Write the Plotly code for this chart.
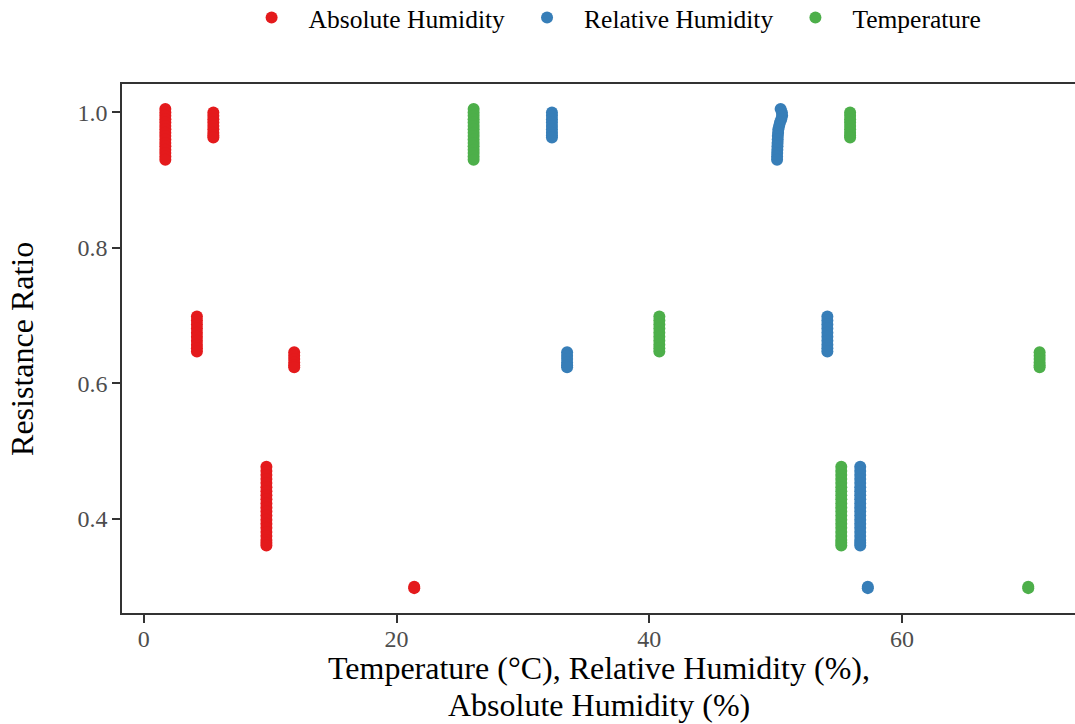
import plotly.graph_objects as go

# ---- data: each group = one test condition (T, RH, AH) with its measured resistance ratios
ratio_g1 = [1.005, 1.000, 0.995, 0.990, 0.985, 0.980, 0.975, 0.970, 0.965, 0.960,
            0.955, 0.950, 0.945, 0.940, 0.935, 0.930]
ratio_g2 = [1.000, 0.995, 0.990, 0.985, 0.980, 0.975, 0.970, 0.966, 0.963]
ratio_g3 = [0.699, 0.693, 0.687, 0.681, 0.675, 0.669, 0.663, 0.657, 0.652, 0.647]
ratio_g4 = [0.646, 0.641, 0.636, 0.631, 0.627, 0.624]
ratio_g5 = [0.477, 0.471, 0.465, 0.459, 0.453, 0.447, 0.441, 0.435, 0.429, 0.423,
            0.417, 0.411, 0.405, 0.399, 0.393, 0.387, 0.381, 0.375, 0.369, 0.365, 0.361]
ratio_g6 = [0.300, 0.298]

rh_g1 = [50.40, 50.50, 50.52, 50.45, 50.35, 50.28, 50.22, 50.20, 50.18, 50.17,
         50.16, 50.15, 50.14, 50.13, 50.12, 50.12]

group_temperature = [26.1, 55.9, 40.8, 70.9, 55.2, 70.0]
group_rel_humidity = [None, 32.3, 54.1, 33.5, 56.7, 57.3]
group_abs_humidity = [1.7, 5.5, 4.2, 11.9, 9.7, 21.4]

series_names = ["Absolute Humidity", "Relative Humidity", "Temperature"]
series_colors = ["#E41A1C", "#377EB8", "#4DAF4A"]

x_ticks = [0, 20, 40, 60]
y_ticks = [0.4, 0.6, 0.8, 1.0]

ratio_groups = [ratio_g1, ratio_g2, ratio_g3, ratio_g4, ratio_g5, ratio_g6]

# ---- build long table
ratios, temp, rh, ah = [], [], [], []
for gi, rg in enumerate(ratio_groups):
    for k, r in enumerate(rg):
        ratios.append(r)
        temp.append(group_temperature[gi])
        ah.append(group_abs_humidity[gi])
        rh.append(rh_g1[k] if gi == 0 else group_rel_humidity[gi])

xs_by_series = {"Absolute Humidity": ah, "Relative Humidity": rh, "Temperature": temp}

FONT = "Liberation Serif"

fig = go.Figure()
for name, col in zip(series_names, series_colors):
    fig.add_trace(go.Scatter(
        x=xs_by_series[name], y=ratios, mode="markers", name=name,
        marker=dict(color=col, size=12, line=dict(width=0)),
    ))

axis_common = dict(
    showgrid=False, zeroline=False, showline=True, linecolor="#333333", linewidth=1.5,
    ticks="outside", ticklen=8, tickwidth=1.5, tickcolor="#333333",
    tickfont=dict(family=FONT, size=24, color="#4D4D4D"),
)

fig.update_layout(
    width=1075, height=724,
    margin=dict(l=122, r=0, t=84, b=111),
    paper_bgcolor="white", plot_bgcolor="white",
    font=dict(family=FONT, color="black"),
    showlegend=True,
    legend=dict(
        orientation="h", xref="container", yref="container",
        x=0.568, xanchor="center", y=1 - 18 / 724, yanchor="middle",
        font=dict(family=FONT, size=25.5, color="black"),
        itemwidth=64,
    ),
    xaxis=dict(range=[-1.73, 73.7], tickvals=x_ticks, ticktext=[str(v) for v in x_ticks],
               mirror=True, ticklabelstandoff=-5, **axis_common),
    yaxis=dict(range=[0.2613, 1.0419], tickvals=y_ticks,
               ticktext=["%.1f" % v for v in y_ticks], mirror=False, **axis_common),
)

fig.add_annotation(text="Temperature (°C), Relative Humidity (%),", xref="paper", yref="paper",
                   x=0.5, y=-0.104, xanchor="center", yanchor="middle", showarrow=False,
                   font=dict(family=FONT, size=32, color="black"))
fig.add_annotation(text="Absolute Humidity (%)", xref="paper", yref="paper",
                   x=0.5, y=-0.174, xanchor="center", yanchor="middle", showarrow=False,
                   font=dict(family=FONT, size=32, color="black"))
fig.add_annotation(text="Resistance Ratio", xref="paper", yref="paper",
                   x=-0.1055, y=0.5, xanchor="center", yanchor="middle", showarrow=False,
                   textangle=-90, font=dict(family=FONT, size=32, color="black"))

fig.write_html("out.html")
